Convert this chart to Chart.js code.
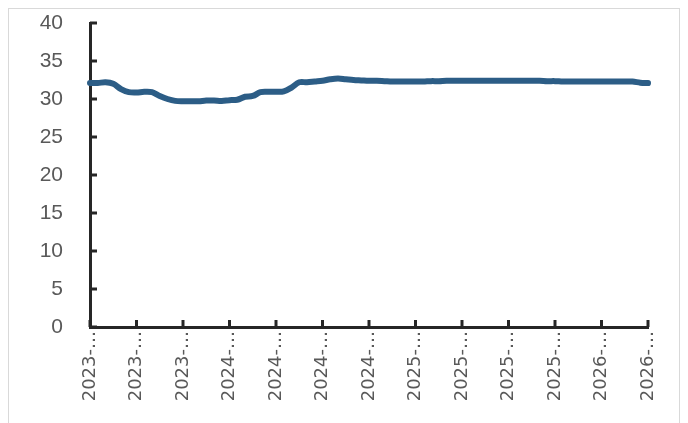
<!DOCTYPE html>
<html>
<head>
<meta charset="utf-8">
<script src="https://cdn.jsdelivr.net/npm/chart.js@4.4.1/dist/chart.umd.min.js"></script>
<style>
  html, body { margin:0; padding:0; background:#fff; }
  #wrap { position:relative; width:688px; height:423px; }
  #frame { position:absolute; left:8px; top:8px; width:672px; height:430px; border:1px solid #d9d9d9; box-sizing:border-box; }
  canvas { position:absolute; left:0; top:0; }
</style>
</head>
<body>
<div id="wrap">
  <div id="frame"></div>
  <canvas id="chart" width="688" height="423"></canvas>
</div>
<script>
// semi-monthly dates, 2023-04 .. 2026-04
const dates = [];
for (let y = 2023; y <= 2026; y++) {
  for (let m = 1; m <= 12; m++) {
    if (y === 2023 && m < 4) continue;
    if (y === 2026 && m > 4) continue;
    const mm = String(m).padStart(2, "0");
    dates.push(`${y}-${mm}-01`);
    if (!(y === 2026 && m === 4)) dates.push(`${y}-${mm}-16`);
  }
}

const values = [
  32.1, 32.1, 32.2, 32.0, 31.3, 30.9, 30.85, 30.95, 30.9, 30.4,
  30.0, 29.75, 29.7, 29.7, 29.7, 29.8, 29.8, 29.75, 29.85, 29.9,
  30.3, 30.4, 30.9, 30.95, 30.95, 31.0, 31.5, 32.2, 32.2, 32.3,
  32.4, 32.6, 32.7, 32.6, 32.5, 32.45, 32.4, 32.4, 32.35, 32.3,
  32.3, 32.3, 32.3, 32.3, 32.35, 32.35, 32.4, 32.4, 32.4, 32.4,
  32.4, 32.4, 32.4, 32.4, 32.4, 32.4, 32.4, 32.4, 32.4, 32.35,
  32.35, 32.3, 32.3, 32.3, 32.3, 32.3, 32.3, 32.3, 32.3, 32.3,
  32.3, 32.15, 32.1
];

const tickEvery = 6;
const yTicks = [0, 5, 10, 15, 20, 25, 30, 35, 40];

// tick marks pointing into the plot
const insideTicks = {
  id: "insideTicks",
  afterDraw(chart) {
    const { ctx, chartArea, scales } = chart;
    ctx.save();
    ctx.strokeStyle = "#262626";
    ctx.lineWidth = 3;
    scales.y.ticks.forEach((t, i) => {
      const py = scales.y.getPixelForTick(i);
      ctx.beginPath(); ctx.moveTo(chartArea.left, py); ctx.lineTo(chartArea.left + 7, py); ctx.stroke();
    });
    scales.x.ticks.forEach((t, i) => {
      const px = scales.x.getPixelForTick(i);
      ctx.beginPath(); ctx.moveTo(px, chartArea.bottom); ctx.lineTo(px, chartArea.bottom - 7); ctx.stroke();
    });
    ctx.restore();
  }
};

new Chart(document.getElementById("chart").getContext("2d"), {
  type: "line",
  data: {
    labels: dates,
    datasets: [{
      data: values,
      borderColor: "#2c5d86",
      borderWidth: 6,
      pointRadius: 0,
      tension: 0.35,
      borderCapStyle: "round",
      borderJoinStyle: "round"
    }]
  },
  options: {
    responsive: false,
    animation: false,
    events: [],
    layout: { padding: { top: 23, right: 40, left: 0, bottom: 0 } },
    plugins: { legend: { display: false }, tooltip: { enabled: false } },
    scales: {
      x: {
        type: "category",
        offset: false,
        grid: { display: true, drawOnChartArea: false, drawTicks: true, tickLength: 4, color: "rgba(0,0,0,0)" },
        border: { display: true, color: "#262626", width: 3 },
        afterBuildTicks: s => { s.ticks = s.ticks.filter((t, i) => i % tickEvery === 0); },
        afterFit: s => { s.height = 96; },
        ticks: {
          autoSkip: false,
          maxRotation: 90,
          minRotation: 90,
          padding: 0,
          color: "#595959",
          font: { family: "DejaVu Sans", size: 18 },
          callback: function (v) { return this.getLabelForValue(v).slice(0, 5) + "…"; }
        }
      },
      y: {
        min: 0,
        max: 40,
        grid: { display: true, drawOnChartArea: false, drawTicks: true, tickLength: 27, color: "rgba(0,0,0,0)" },
        border: { display: true, color: "#262626", width: 3 },
        afterBuildTicks: s => { s.ticks = yTicks.map(v => ({ value: v })); },
        afterFit: s => { s.width = 90; },
        ticks: {
          padding: 0,
          color: "#595959",
          font: { family: "Liberation Sans", size: 21 }
        }
      }
    }
  },
  plugins: [insideTicks]
});
</script>
</body>
</html>
